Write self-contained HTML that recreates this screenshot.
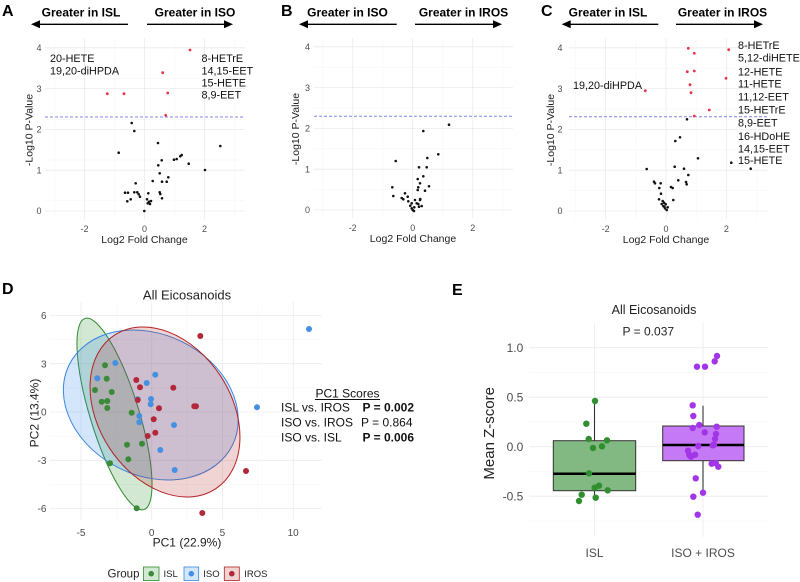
<!DOCTYPE html>
<html><head><meta charset="utf-8"><style>
html,body{margin:0;padding:0;background:#fff;}
svg{display:block;font-family:"Liberation Sans",Arial,sans-serif;}
.gM{stroke:#ebebeb;stroke-width:0.8;fill:none}
.gm{stroke:#f4f4f4;stroke-width:0.5;fill:none}
.tk{font-size:9px;fill:#4d4d4d}
.tkD{font-size:10px;fill:#4d4d4d}
.tkE{font-size:12px;fill:#4d4d4d}
.hd{font-size:12px;font-weight:bold;fill:#000}
.pl{font-size:16px;font-weight:bold;fill:#000}
.lb{font-size:10.8px;fill:#111}
.ax{font-size:10.5px;fill:#222}
.rd{fill:#e8334a}
.bk{fill:#111}
</style></head><body>
<svg width="800" height="582" viewBox="0 0 800 582" xmlns="http://www.w3.org/2000/svg">
<rect width="800" height="582" fill="#fff"/>

<!-- ================= PANEL A ================= -->
<g>
<!-- minor grid -->
<g class="gm">
<line x1="45" x2="245" y1="200.8" y2="200.8"/><line x1="45" x2="245" y1="160" y2="160"/><line x1="45" x2="245" y1="119.2" y2="119.2"/><line x1="45" x2="245" y1="78.4" y2="78.4"/>
<line x1="54.5" x2="54.5" y1="38" y2="219"/><line x1="114.5" x2="114.5" y1="38" y2="219"/><line x1="174.5" x2="174.5" y1="38" y2="219"/><line x1="234.5" x2="234.5" y1="38" y2="219"/>
</g>
<g class="gM">
<line x1="45" x2="245" y1="211" y2="211"/><line x1="45" x2="245" y1="170.2" y2="170.2"/><line x1="45" x2="245" y1="129.4" y2="129.4"/><line x1="45" x2="245" y1="88.6" y2="88.6"/><line x1="45" x2="245" y1="47.8" y2="47.8"/>
<line x1="84.5" x2="84.5" y1="38" y2="219"/><line x1="144.5" x2="144.5" y1="38" y2="219"/><line x1="204.5" x2="204.5" y1="38" y2="219"/>
</g>
<line x1="45" x2="245" y1="117" y2="117" stroke="#8484ee" stroke-width="1" stroke-dasharray="3,2"/>
<text class="pl" x="2" y="16">A</text>
<text class="hd" x="81" y="16.5" text-anchor="middle">Greater in ISL</text>
<text class="hd" x="195" y="16.5" text-anchor="middle">Greater in ISO</text>
<line x1="38" x2="128" y1="24.3" y2="24.3" stroke="#000" stroke-width="1.3"/>
<polygon points="31,24.3 40,20.3 40,28.3" fill="#000"/>
<line x1="147" x2="226" y1="24.3" y2="24.3" stroke="#000" stroke-width="1.3"/>
<polygon points="233,24.3 224,20.3 224,28.3" fill="#000"/>
<g class="tk" text-anchor="end">
<text x="41.5" y="214.2">0</text><text x="41.5" y="173.4">1</text><text x="41.5" y="132.6">2</text><text x="41.5" y="91.8">3</text><text x="41.5" y="51">4</text>
</g>
<g class="tk" text-anchor="middle">
<text x="84.5" y="232">-2</text><text x="144.5" y="232">0</text><text x="204.5" y="232">2</text>
</g>
<text class="ax" x="144.5" y="243" text-anchor="middle">Log2 Fold Change</text>
<text class="ax" transform="translate(32.5,130) rotate(-90)" text-anchor="middle">-Log10 P-Value</text>
<g class="lb">
<text x="50" y="62">20-HETE</text><text x="50" y="74.5">19,20-diHPDA</text>
<text x="201.5" y="62">8-HETrE</text><text x="201.5" y="74.5">14,15-EET</text><text x="201.5" y="86.5">15-HETE</text><text x="201.5" y="98.5">8,9-EET</text>
</g>
<g class="rd">
<circle cx="190" cy="50" r="1.4"/><circle cx="162.7" cy="72.7" r="1.4"/><circle cx="167.7" cy="93" r="1.4"/><circle cx="107.3" cy="93.7" r="1.4"/><circle cx="124" cy="93.7" r="1.4"/><circle cx="165.7" cy="115.3" r="1.4"/>
</g>
<g class="bk">
<circle cx="131.7" cy="123" r="1.3"/><circle cx="134.3" cy="131" r="1.3"/><circle cx="118.7" cy="152.7" r="1.3"/><circle cx="158" cy="143" r="1.3"/><circle cx="220.3" cy="146" r="1.3"/><circle cx="174" cy="159.7" r="1.3"/><circle cx="176.7" cy="159" r="1.3"/><circle cx="180.3" cy="156.3" r="1.3"/><circle cx="181.7" cy="155" r="1.3"/><circle cx="188.7" cy="163.7" r="1.3"/><circle cx="161.7" cy="160.3" r="1.3"/><circle cx="158.3" cy="165.3" r="1.3"/><circle cx="205" cy="170" r="1.3"/><circle cx="159.7" cy="173.3" r="1.3"/><circle cx="168.3" cy="177.3" r="1.3"/><circle cx="152.7" cy="181" r="1.3"/><circle cx="162" cy="181.7" r="1.3"/><circle cx="166.7" cy="181.7" r="1.3"/><circle cx="135.7" cy="183.3" r="1.3"/><circle cx="134.3" cy="192.3" r="1.3"/><circle cx="137.3" cy="192.3" r="1.3"/><circle cx="138.7" cy="194.3" r="1.3"/><circle cx="140" cy="196.7" r="1.3"/><circle cx="125" cy="192.7" r="1.3"/><circle cx="128" cy="192.7" r="1.3"/><circle cx="127.3" cy="201.3" r="1.3"/><circle cx="130.7" cy="199.3" r="1.3"/><circle cx="148.3" cy="193.3" r="1.3"/><circle cx="147" cy="199.3" r="1.3"/><circle cx="149" cy="201.7" r="1.3"/><circle cx="147.7" cy="203.3" r="1.3"/><circle cx="150" cy="204" r="1.3"/><circle cx="151" cy="201" r="1.3"/><circle cx="159.7" cy="192.3" r="1.3"/><circle cx="160.3" cy="194" r="1.3"/><circle cx="162" cy="198.3" r="1.3"/><circle cx="144.3" cy="211" r="1.3"/>
</g>
</g>

<!-- ================= PANEL B ================= -->
<g>
<g class="gm">
<line x1="314" x2="513" y1="189.6" y2="189.6"/><line x1="314" x2="513" y1="148.8" y2="148.8"/><line x1="314" x2="513" y1="108" y2="108"/><line x1="314" x2="513" y1="67.2" y2="67.2"/>
<line x1="322.7" x2="322.7" y1="38" y2="218"/><line x1="382.7" x2="382.7" y1="38" y2="218"/><line x1="442.7" x2="442.7" y1="38" y2="218"/><line x1="502.7" x2="502.7" y1="38" y2="218"/>
</g>
<g class="gM">
<line x1="314" x2="513" y1="210" y2="210"/><line x1="314" x2="513" y1="169.2" y2="169.2"/><line x1="314" x2="513" y1="128.4" y2="128.4"/><line x1="314" x2="513" y1="87.6" y2="87.6"/><line x1="314" x2="513" y1="46.8" y2="46.8"/>
<line x1="352.7" x2="352.7" y1="38" y2="218"/><line x1="412.7" x2="412.7" y1="38" y2="218"/><line x1="472.7" x2="472.7" y1="38" y2="218"/>
</g>
<line x1="314" x2="513" y1="116.3" y2="116.3" stroke="#8484ee" stroke-width="1" stroke-dasharray="3,2"/>
<text class="pl" x="281" y="16">B</text>
<text class="hd" x="347.5" y="16.5" text-anchor="middle">Greater in ISO</text>
<text class="hd" x="463.5" y="16.5" text-anchor="middle">Greater in IROS</text>
<line x1="306" x2="396.7" y1="24.3" y2="24.3" stroke="#000" stroke-width="1.3"/>
<polygon points="299,24.3 308,20.3 308,28.3" fill="#000"/>
<line x1="415" x2="495" y1="24.3" y2="24.3" stroke="#000" stroke-width="1.3"/>
<polygon points="502,24.3 493,20.3 493,28.3" fill="#000"/>
<g class="tk" text-anchor="end">
<text x="310" y="213.2">0</text><text x="310" y="172.4">1</text><text x="310" y="131.6">2</text><text x="310" y="90.8">3</text><text x="310" y="50">4</text>
</g>
<g class="tk" text-anchor="middle">
<text x="352.7" y="231">-2</text><text x="412.7" y="231">0</text><text x="472.7" y="231">2</text>
</g>
<text class="ax" x="413" y="242" text-anchor="middle">Log2 Fold Change</text>
<text class="ax" transform="translate(299,129) rotate(-90)" text-anchor="middle">-Log10 P-Value</text>
<g class="bk">
<circle cx="449" cy="124.7" r="1.3"/><circle cx="423.3" cy="131" r="1.3"/><circle cx="395.7" cy="161" r="1.3"/><circle cx="438.3" cy="154.3" r="1.3"/><circle cx="427.3" cy="158" r="1.3"/><circle cx="419" cy="167.3" r="1.3"/><circle cx="426.7" cy="167.3" r="1.3"/><circle cx="417.7" cy="179" r="1.3"/><circle cx="423.3" cy="176.3" r="1.3"/><circle cx="429" cy="186.3" r="1.3"/><circle cx="420" cy="183.3" r="1.3"/><circle cx="418.3" cy="187.3" r="1.3"/><circle cx="417.7" cy="190" r="1.3"/><circle cx="425" cy="190.7" r="1.3"/><circle cx="392.3" cy="187.3" r="1.3"/><circle cx="393.3" cy="196" r="1.3"/><circle cx="405" cy="193.3" r="1.3"/><circle cx="407.7" cy="196.7" r="1.3"/><circle cx="401.7" cy="198" r="1.3"/><circle cx="403.3" cy="199.3" r="1.3"/><circle cx="408.3" cy="201.3" r="1.3"/><circle cx="410.3" cy="205.7" r="1.3"/><circle cx="411.7" cy="208.3" r="1.3"/><circle cx="412.7" cy="210" r="1.3"/><circle cx="414" cy="211" r="1.3"/><circle cx="415" cy="200" r="1.3"/><circle cx="416.7" cy="203.3" r="1.3"/><circle cx="418.3" cy="204" r="1.3"/><circle cx="420" cy="200" r="1.3"/><circle cx="421.7" cy="206" r="1.3"/><circle cx="419" cy="206.7" r="1.3"/><circle cx="414.3" cy="207.3" r="1.3"/><circle cx="420.3" cy="199" r="1.3"/><circle cx="411.7" cy="203.3" r="1.3"/>
</g>
</g>

<!-- ================= PANEL C ================= -->
<g>
<g class="gm">
<line x1="569" x2="767" y1="190.6" y2="190.6"/><line x1="569" x2="767" y1="149.8" y2="149.8"/><line x1="569" x2="767" y1="109" y2="109"/><line x1="569" x2="767" y1="68.2" y2="68.2"/>
<line x1="575.4" x2="575.4" y1="38" y2="219"/><line x1="635.8" x2="635.8" y1="38" y2="219"/><line x1="696.2" x2="696.2" y1="38" y2="219"/><line x1="756.6" x2="756.6" y1="38" y2="219"/>
</g>
<g class="gM">
<line x1="569" x2="767" y1="211" y2="211"/><line x1="569" x2="767" y1="170.2" y2="170.2"/><line x1="569" x2="767" y1="129.4" y2="129.4"/><line x1="569" x2="767" y1="88.6" y2="88.6"/><line x1="569" x2="767" y1="47.8" y2="47.8"/>
<line x1="605.6" x2="605.6" y1="38" y2="219"/><line x1="666" x2="666" y1="38" y2="219"/><line x1="726.4" x2="726.4" y1="38" y2="219"/>
</g>
<line x1="569" x2="767" y1="116.7" y2="116.7" stroke="#8484ee" stroke-width="1" stroke-dasharray="3,2"/>
<text class="pl" x="541" y="16">C</text>
<text class="hd" x="608" y="16.5" text-anchor="middle">Greater in ISL</text>
<text class="hd" x="722.5" y="16.5" text-anchor="middle">Greater in IROS</text>
<line x1="569" x2="658.3" y1="24.3" y2="24.3" stroke="#000" stroke-width="1.3"/>
<polygon points="561.7,24.3 570.7,20.3 570.7,28.3" fill="#000"/>
<line x1="676" x2="756" y1="24.3" y2="24.3" stroke="#000" stroke-width="1.3"/>
<polygon points="763,24.3 754,20.3 754,28.3" fill="#000"/>
<g class="tk" text-anchor="end">
<text x="562.5" y="214.2">0</text><text x="562.5" y="173.4">1</text><text x="562.5" y="132.6">2</text><text x="562.5" y="91.8">3</text><text x="562.5" y="51">4</text>
</g>
<g class="tk" text-anchor="middle">
<text x="605.6" y="232">-2</text><text x="666" y="232">0</text><text x="726.4" y="232">2</text>
</g>
<text class="ax" x="666" y="243" text-anchor="middle">Log2 Fold Change</text>
<text class="ax" transform="translate(554,130) rotate(-90)" text-anchor="middle">-Log10 P-Value</text>
<g class="lb">
<text x="573" y="89">19,20-diHPDA</text>
<text x="738" y="49">8-HETrE</text><text x="738" y="61.5">5,12-diHETE</text><text x="738" y="75.7">12-HETE</text><text x="738" y="87.5">11-HETE</text><text x="738" y="100.7">11,12-EET</text><text x="738" y="113.3">15-HETrE</text><text x="738" y="126.7">8,9-EET</text><text x="738" y="140">16-HDoHE</text><text x="738" y="152.3">14,15-EET</text><text x="738" y="164">15-HETE</text>
</g>
<g class="rd">
<circle cx="688.3" cy="48.3" r="1.4"/><circle cx="694.3" cy="53.3" r="1.4"/><circle cx="728.7" cy="49.7" r="1.4"/><circle cx="687.3" cy="71.7" r="1.4"/><circle cx="694.3" cy="71" r="1.4"/><circle cx="726" cy="78.3" r="1.4"/><circle cx="690" cy="84.7" r="1.4"/><circle cx="691" cy="92.7" r="1.4"/><circle cx="645.3" cy="90.7" r="1.4"/><circle cx="709.3" cy="110" r="1.4"/><circle cx="694.3" cy="116" r="1.4"/>
</g>
<g class="bk">
<circle cx="687" cy="119.3" r="1.3"/><circle cx="680" cy="137.3" r="1.3"/><circle cx="675.3" cy="141" r="1.3"/><circle cx="698" cy="158.3" r="1.3"/><circle cx="731.3" cy="162.7" r="1.3"/><circle cx="750.7" cy="168.7" r="1.3"/><circle cx="646.7" cy="169" r="1.3"/><circle cx="674.7" cy="166.7" r="1.3"/><circle cx="684" cy="168.7" r="1.3"/><circle cx="688.3" cy="175" r="1.3"/><circle cx="678.3" cy="180.3" r="1.3"/><circle cx="686" cy="182" r="1.3"/><circle cx="686.7" cy="184.3" r="1.3"/><circle cx="654" cy="181.7" r="1.3"/><circle cx="655" cy="183.3" r="1.3"/><circle cx="660.7" cy="183.3" r="1.3"/><circle cx="671" cy="187" r="1.3"/><circle cx="672.7" cy="188" r="1.3"/><circle cx="659.3" cy="188" r="1.3"/><circle cx="661" cy="193.7" r="1.3"/><circle cx="659" cy="199.3" r="1.3"/><circle cx="673.3" cy="200" r="1.3"/><circle cx="661.7" cy="204" r="1.3"/><circle cx="663.3" cy="206" r="1.3"/><circle cx="664.3" cy="206.7" r="1.3"/><circle cx="665" cy="208.3" r="1.3"/><circle cx="666.7" cy="210" r="1.3"/><circle cx="667.7" cy="207.3" r="1.3"/><circle cx="662.7" cy="201" r="1.3"/><circle cx="664" cy="202.7" r="1.3"/><circle cx="665.7" cy="204.3" r="1.3"/>
</g>
</g>

<!-- ================= PANEL D ================= -->
<g>
<text class="pl" x="2" y="294">D</text>
<text x="187" y="299.5" text-anchor="middle" style="font-size:13px;fill:#222">All Eicosanoids</text>
<g class="gm">
<line x1="50" x2="322" y1="339.55" y2="339.55"/><line x1="50" x2="322" y1="387.85" y2="387.85"/><line x1="50" x2="322" y1="436.15" y2="436.15"/><line x1="50" x2="322" y1="484.45" y2="484.45"/>
<line x1="116.3" x2="116.3" y1="302" y2="520"/><line x1="187.1" x2="187.1" y1="302" y2="520"/><line x1="257.8" x2="257.8" y1="302" y2="520"/>
</g>
<g class="gM">
<line x1="50" x2="322" y1="315.4" y2="315.4"/><line x1="50" x2="322" y1="363.7" y2="363.7"/><line x1="50" x2="322" y1="412" y2="412"/><line x1="50" x2="322" y1="460.3" y2="460.3"/><line x1="50" x2="322" y1="508.6" y2="508.6"/>
<line x1="81" x2="81" y1="302" y2="520"/><line x1="151.7" x2="151.7" y1="302" y2="520"/><line x1="222.4" x2="222.4" y1="302" y2="520"/><line x1="293.2" x2="293.2" y1="302" y2="520"/>
</g>
<!-- ellipses -->
<ellipse cx="114.5" cy="414" rx="100" ry="24.4" transform="rotate(72.9 114.5 414)" fill="rgba(34,139,34,0.2)" stroke="#2e8b2e" stroke-width="1"/>
<ellipse cx="150.8" cy="405" rx="91" ry="70.6" transform="rotate(26 150.8 405)" fill="rgba(40,130,235,0.2)" stroke="#3a86e0" stroke-width="1"/>
<ellipse cx="165" cy="412" rx="92" ry="66.2" transform="rotate(56.6 165 412)" fill="rgba(178,34,34,0.2)" stroke="#b22222" stroke-width="1"/>
<g fill="#3a8a3a">
<circle cx="105" cy="365.3" r="3"/><circle cx="106.7" cy="378.7" r="3"/><circle cx="95" cy="390" r="3"/><circle cx="111.7" cy="392" r="3"/><circle cx="101.7" cy="401.7" r="3"/><circle cx="107.3" cy="401" r="3"/><circle cx="107.3" cy="408" r="3"/><circle cx="131.7" cy="412.7" r="3"/><circle cx="127" cy="444.7" r="3"/><circle cx="142" cy="443.7" r="3"/><circle cx="128.3" cy="459.3" r="3"/><circle cx="110" cy="463.3" r="3"/><circle cx="136.7" cy="508.3" r="3"/>
</g>
<g fill="#4590e0">
<circle cx="115.3" cy="363" r="3"/><circle cx="97.3" cy="378.3" r="3"/><circle cx="155.3" cy="374.7" r="3"/><circle cx="146.7" cy="383" r="3"/><circle cx="137.7" cy="399.3" r="3"/><circle cx="151" cy="399" r="3"/><circle cx="150.7" cy="404.3" r="3"/><circle cx="139.3" cy="416" r="3"/><circle cx="139.3" cy="422.3" r="3"/><circle cx="174" cy="425" r="3"/><circle cx="160.3" cy="450" r="3"/><circle cx="174.7" cy="470" r="3"/><circle cx="257" cy="407.3" r="3"/><circle cx="309" cy="329" r="3"/>
</g>
<g fill="#b2283a">
<circle cx="200.3" cy="336" r="3"/><circle cx="136.3" cy="380" r="3"/><circle cx="140" cy="387.3" r="3"/><circle cx="173.3" cy="387.7" r="3"/><circle cx="137.7" cy="400" r="3"/><circle cx="159" cy="408.3" r="3"/><circle cx="194.3" cy="406.3" r="3"/><circle cx="196" cy="406.3" r="3"/><circle cx="153.7" cy="419.3" r="3"/><circle cx="155.3" cy="432.7" r="3"/><circle cx="147.7" cy="436" r="3"/><circle cx="246" cy="471" r="3"/><circle cx="202.3" cy="513" r="3"/>
</g>
<g class="tkD" text-anchor="end">
<text x="46.5" y="319">6</text><text x="46.5" y="367.3">3</text><text x="46.5" y="415.6">0</text><text x="46.5" y="463.9">-3</text><text x="46.5" y="512.2">-6</text>
</g>
<g class="tkD" text-anchor="middle">
<text x="81" y="536">-5</text><text x="151.7" y="536">0</text><text x="222.4" y="536">5</text><text x="293.2" y="536">10</text>
</g>
<text x="187" y="546.5" text-anchor="middle" style="font-size:12px;fill:#222">PC1 (22.9%)</text>
<text transform="translate(38.5,413) rotate(-90)" text-anchor="middle" style="font-size:12px;fill:#222">PC2 (13.4%)</text>
<!-- PC1 Scores -->
<g style="font-size:12px;fill:#111">
<text x="347.5" y="397.5" text-anchor="middle">PC1 Scores</text>
<line x1="315" x2="380" y1="399.5" y2="399.5" stroke="#111" stroke-width="0.9"/>
<text x="281" y="411.7">ISL vs. IROS</text><text x="362.5" y="411.7" font-weight="bold">P = 0.002</text>
<text x="281" y="426.7">ISO vs. IROS</text><text x="361" y="426.7">P = 0.864</text>
<text x="281" y="441.7">ISO vs. ISL</text><text x="362.5" y="441.7" font-weight="bold">P = 0.006</text>
</g>
<!-- legend -->
<text x="107.5" y="577.5" style="font-size:11.5px;fill:#222">Group</text>
<rect x="143.5" y="567" width="15.5" height="13.5" fill="#d3e8d3" stroke="#2e8b2e" stroke-width="0.8"/>
<circle cx="151.2" cy="573.7" r="2.8" fill="#3a8a3a"/>
<text x="163.5" y="577" style="font-size:9.5px;fill:#222">ISL</text>
<rect x="184" y="567" width="14.7" height="13.5" fill="#d4e6fa" stroke="#3a86e0" stroke-width="0.8"/>
<circle cx="191.3" cy="573.7" r="2.8" fill="#4590e0"/>
<text x="203.3" y="577" style="font-size:9.5px;fill:#222">ISO</text>
<rect x="224.3" y="567" width="15" height="13.5" fill="#f0d3d3" stroke="#b22222" stroke-width="0.8"/>
<circle cx="231.8" cy="573.7" r="2.8" fill="#b2283a"/>
<text x="244.3" y="577" style="font-size:9.5px;fill:#222">IROS</text>
</g>

<!-- ================= PANEL E ================= -->
<g>
<text class="pl" x="452" y="295">E</text>
<text x="654" y="314" text-anchor="middle" style="font-size:12.5px;fill:#222">All Eicosanoids</text>
<text x="648.3" y="335.5" text-anchor="middle" style="font-size:12px;fill:#222">P = 0.037</text>
<g class="gm">
<line x1="529" x2="768" y1="372.5" y2="372.5"/><line x1="529" x2="768" y1="422" y2="422"/><line x1="529" x2="768" y1="471.5" y2="471.5"/><line x1="529" x2="768" y1="521" y2="521"/>
</g>
<g class="gM">
<line x1="529" x2="768" y1="347.7" y2="347.7"/><line x1="529" x2="768" y1="397.2" y2="397.2"/><line x1="529" x2="768" y1="446.7" y2="446.7"/><line x1="529" x2="768" y1="496.2" y2="496.2"/>
<line x1="594.5" x2="594.5" y1="323" y2="537"/><line x1="703" x2="703" y1="323" y2="537"/>
</g>
<!-- ISL box -->
<line x1="594.5" x2="594.5" y1="401.7" y2="440.7" stroke="#333" stroke-width="1.1"/>
<line x1="594.5" x2="594.5" y1="490.7" y2="500.5" stroke="#333" stroke-width="1.1"/>
<rect x="553.3" y="440.7" width="82.4" height="50" fill="#82b982" stroke="#333" stroke-width="1"/>
<line x1="553.3" x2="635.7" y1="473.7" y2="473.7" stroke="#000" stroke-width="2.5"/>
<!-- ISO+IROS box -->
<line x1="703" x2="703" y1="405.7" y2="426" stroke="#333" stroke-width="1.1"/>
<line x1="703" x2="703" y1="460.7" y2="493.3" stroke="#333" stroke-width="1.1"/>
<rect x="662.7" y="426" width="81.3" height="34.7" fill="#c679f6" stroke="#333" stroke-width="1"/>
<line x1="662.7" x2="744" y1="445" y2="445" stroke="#000" stroke-width="2.5"/>
<g fill="#2f8f2f">
<circle cx="595" cy="401" r="3.2"/><circle cx="586.3" cy="423.7" r="3.2"/><circle cx="588.7" cy="439" r="3.2"/><circle cx="607" cy="440.3" r="3.2"/><circle cx="593" cy="448" r="3.2"/><circle cx="602" cy="446.3" r="3.2"/><circle cx="589" cy="473.3" r="3.2"/><circle cx="594.7" cy="487.7" r="3.2"/><circle cx="599" cy="485.7" r="3.2"/><circle cx="607.7" cy="490.3" r="3.2"/><circle cx="581.7" cy="494.7" r="3.2"/><circle cx="595.7" cy="497.7" r="3.2"/><circle cx="579" cy="501" r="3.2"/>
</g>
<g fill="#a335e8">
<circle cx="717" cy="356" r="3.2"/><circle cx="714.7" cy="361.3" r="3.2"/><circle cx="697" cy="366.7" r="3.2"/><circle cx="705" cy="366.7" r="3.2"/><circle cx="692.7" cy="405.3" r="3.2"/><circle cx="693.3" cy="416" r="3.2"/><circle cx="692.7" cy="428" r="3.2"/><circle cx="699.3" cy="425" r="3.2"/><circle cx="704.7" cy="432.3" r="3.2"/><circle cx="716.7" cy="426.7" r="3.2"/><circle cx="716" cy="434" r="3.2"/><circle cx="715" cy="439" r="3.2"/><circle cx="714" cy="444.7" r="3.2"/><circle cx="712.7" cy="445.3" r="3.2"/><circle cx="698.3" cy="446" r="3.2"/><circle cx="688" cy="450.7" r="3.2"/><circle cx="689.3" cy="455" r="3.2"/><circle cx="695" cy="454.7" r="3.2"/><circle cx="691" cy="456.7" r="3.2"/><circle cx="711.7" cy="463.7" r="3.2"/><circle cx="718.3" cy="466.7" r="3.2"/><circle cx="715.7" cy="463" r="3.2"/><circle cx="695.7" cy="478.3" r="3.2"/><circle cx="703" cy="492.7" r="3.2"/><circle cx="693.3" cy="496.7" r="3.2"/><circle cx="697.7" cy="514.7" r="3.2"/>
</g>
<g class="tkE" text-anchor="end">
<text x="523.3" y="351.8">1.0</text><text x="523.3" y="401.5">0.5</text><text x="523.3" y="451">0.0</text><text x="523.3" y="500.5">-0.5</text>
</g>
<g class="tkE" text-anchor="middle">
<text x="594.5" y="557">ISL</text><text x="703" y="557">ISO + IROS</text>
</g>
<text transform="translate(494,433.3) rotate(-90)" text-anchor="middle" style="font-size:15px;fill:#222">Mean Z-score</text>
</g>
</svg>
</body></html>
